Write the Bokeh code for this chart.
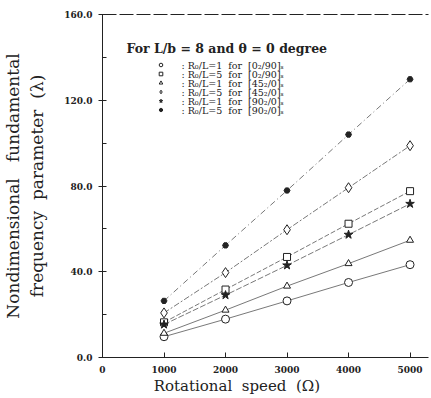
from bokeh.plotting import figure
from bokeh.models import (Legend, LegendItem, LinearAxis, NumeralTickFormatter,
                          FixedTicker, Range1d, Label)
from bokeh.embed import file_html
from bokeh.resources import INLINE

speed = [1000, 2000, 3000, 4000, 5000]
circ = [9.7, 17.9, 26.4, 35.0, 43.3]
sq = [16.4, 31.7, 46.9, 62.4, 77.6]
tri = [11.3, 22.1, 33.3, 43.8, 54.7]
dia = [20.8, 39.6, 59.6, 79.2, 98.8]
star = [15.4, 29.1, 43.0, 57.3, 71.7]
filled = [26.4, 52.3, 77.9, 104.0, 129.8]

NB = "\u00a0"
labels = [
    f":{NB}R\u2080/L=1{NB}{NB}for{NB}{NB}[0\u2082/90]\u209b",
    f":{NB}R\u2080/L=5{NB}{NB}for{NB}{NB}[0\u2082/90]\u209b",
    f":{NB}R\u2080/L=1{NB}{NB}for{NB}{NB}[45\u2082/0]\u209b",
    f":{NB}R\u2080/L=5{NB}{NB}for{NB}{NB}[45\u2082/0]\u209b",
    f":{NB}R\u2080/L=1{NB}{NB}for{NB}{NB}[90\u2082/0]\u209b",
    f":{NB}R\u2080/L=5{NB}{NB}for{NB}{NB}[90\u2082/0]\u209b",
]
title = f"For{NB}L/b{NB}={NB}8{NB}and{NB}\u03b8{NB}={NB}0{NB}degree"
x_ticks = [0, 1000, 2000, 3000, 4000, 5000]
y_ticks = [0, 40, 80, 120, 160]

SERIF = "DejaVu Serif"
INK = "#222222"
GRAY = "#555555"

p = figure(width=431, height=398, x_range=Range1d(0, 5300), y_range=Range1d(0, 160),
           output_backend="svg", toolbar_location=None,
           min_border_left=94, min_border_right=3, min_border_top=14, min_border_bottom=41)
p.xgrid.visible = False
p.ygrid.visible = False
p.outline_line_color = None
p.background_fill_color = "white"
p.border_fill_color = "white"

series = [
    (circ, "circle", "white", "solid", 8),
    (sq, "square", "white", "5 2", 7),
    (tri, "triangle", "white", "solid", 7),
    (dia, "diamond", "white", "6 2 2 2", 10),
    (star, "star", INK, "6 2", 9),
    (filled, "hex", INK, "6 3 1 3", 6),
]
ROW = 9
LEG_X, LEG_Y, GLYPH_W = 40, 243, 37
items = []
n = len(series)
for i, ((vals, marker, fill, dash, size), lab) in enumerate(zip(series, labels)):
    p.line(speed, vals, line_color=GRAY, line_width=0.8, line_dash=dash)
    r = p.scatter(speed, vals, marker=marker, size=size, fill_color=fill,
                  line_color=INK, line_width=1)
    items.append(LegendItem(label=" ", renderers=[r]))
    p.add_layout(Label(x=LEG_X + GLYPH_W + 2, y=LEG_Y + (n - i) * ROW - ROW / 2,
                       x_units="screen", y_units="screen", text=lab,
                       text_font=SERIF, text_font_size="9.5px", text_color=INK,
                       text_baseline="middle"))

legend = Legend(items=items, location=(LEG_X, LEG_Y),
                label_text_font_size="1px", label_text_line_height=0.5,
                label_height=ROW, glyph_height=ROW, glyph_width=GLYPH_W,
                label_standoff=0, label_width=0, spacing=0, padding=0, margin=0,
                border_line_color=None, background_fill_alpha=0)
p.add_layout(legend)

p.add_layout(Label(x=24, y=302, x_units="screen", y_units="screen", text=title,
                   text_font=SERIF, text_font_size="12.5px", text_font_style="bold",
                   text_color=INK))

p.xaxis.ticker = FixedTicker(ticks=x_ticks)
p.yaxis.ticker = FixedTicker(ticks=y_ticks, minor_ticks=[20, 60, 100, 140])
p.yaxis.formatter = NumeralTickFormatter(format="0.0")
p.xaxis.formatter = NumeralTickFormatter(format="0")

for ax in (p.xaxis[0], p.yaxis[0]):
    ax.axis_line_color = INK
    ax.axis_line_width = 1
    ax.major_tick_line_color = INK
    ax.minor_tick_line_color = INK
    ax.major_label_text_font = SERIF
    ax.major_label_text_font_size = "9px"
    ax.major_label_text_font_style = "bold"
    ax.major_label_text_color = INK
    ax.axis_label_text_font = SERIF
    ax.axis_label_text_font_style = "normal"
    ax.axis_label_text_color = INK

p.xaxis.major_tick_in = 5
p.xaxis.major_tick_out = 0
p.xaxis.minor_tick_line_color = None
p.xaxis.major_label_standoff = 8
p.xaxis.axis_label = f"Rotational{NB}{NB}speed{NB}{NB}(\u03a9)" + NB * 12
p.xaxis.axis_label_text_font_size = "15px"
p.xaxis.axis_label_standoff = 1

p.yaxis.major_tick_in = 4
p.yaxis.major_tick_out = 4
p.yaxis.minor_tick_in = 4
p.yaxis.minor_tick_out = 0
p.yaxis.major_label_standoff = 6
p.yaxis.axis_label = (f"Nondimensional{NB}{NB}{NB}fundamental\n"
                      f"frequency{NB}{NB}parameter{NB}{NB}(\u03bb)")
p.yaxis.axis_label_text_font_size = "17px"
p.yaxis.axis_label_standoff = 14

top = LinearAxis(ticker=FixedTicker(ticks=[]), major_label_text_font_size="0px",
                 axis_line_color=INK, axis_line_dash="14 3",
                 major_tick_line_color=None, minor_tick_line_color=None)
p.add_layout(top, "above")

open("out.html", "w").write(file_html(p, INLINE))
